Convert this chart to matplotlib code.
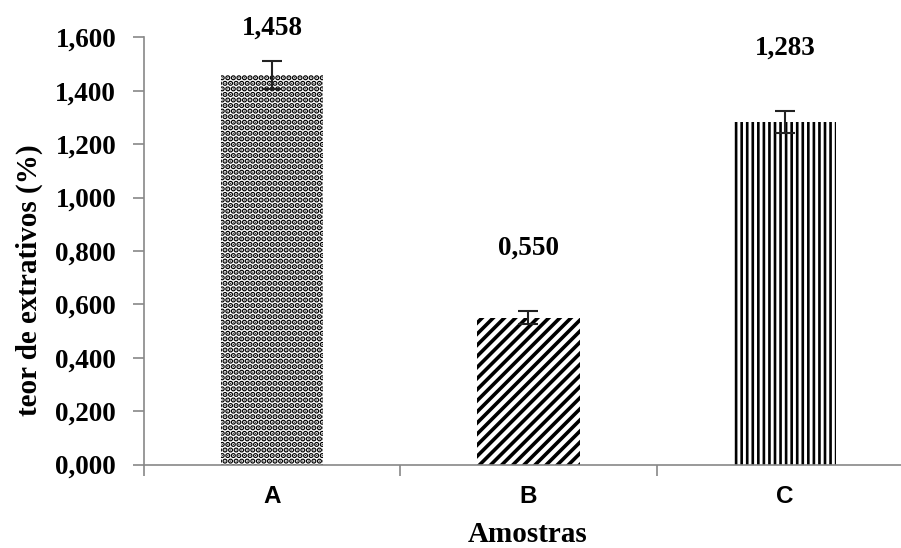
import matplotlib
matplotlib.use("Agg")
import matplotlib.pyplot as plt
import numpy as np

categories = ["A", "B", "C"]
values = [1.458, 0.550, 1.283]
errors = [0.053, 0.025, 0.040]
value_labels = ["1,458", "0,550", "1,283"]
yticks = [0.0, 0.2, 0.4, 0.6, 0.8, 1.0, 1.2, 1.4, 1.6]
ytick_labels = ["0,000", "0,200", "0,400", "0,600", "0,800", "1,000", "1,200", "1,400", "1,600"]
hatches = ["...", "///", "|||"]
hatch_widths = [2.8, 2.6, 1.9]

plt.rcParams["hatch.linewidth"] = 2.2
serif = ["Liberation Serif", "DejaVu Serif"]
sans = ["Liberation Sans", "DejaVu Sans"]

fig = plt.figure(figsize=(9.01, 5.48), dpi=100)
ax = fig.add_axes([144/901, 1 - 464.5/548, 769/901, (464.5 - 37.3)/548])

x = np.arange(len(categories))
bars = ax.bar(x, values, width=0.4, color="white", edgecolor="black", linewidth=0)
for b, h, hw in zip(bars, hatches, hatch_widths):
    b.set_hatch(h)
    if hasattr(b, "set_hatch_linewidth"):
        b.set_hatch_linewidth(hw)
ax.errorbar(x, values, yerr=errors, fmt="none", ecolor="#222222", elinewidth=1.5,
            capsize=7, capthick=1.5)

ax.set_xlim(-0.5, 2.5)
ax.set_ylim(0, 1.6)
ax.set_yticks(yticks)
ax.set_yticklabels(ytick_labels, fontfamily=serif, fontweight="bold", fontsize=19.5)
ax.set_xticks(x)
ax.set_xticklabels(categories, fontfamily=sans, fontweight="bold", fontsize=17.5)
ax.set_xticks(np.arange(-0.5, 3, 1.0), minor=True)
ax.tick_params(axis="x", which="major", length=0, pad=15)
ax.tick_params(axis="x", which="minor", length=8, width=1.2, color="#888888", direction="out")
ax.tick_params(axis="y", which="major", length=8, width=1.2, color="#888888", direction="out", pad=12)

for s in ["top", "right"]:
    ax.spines[s].set_visible(False)
for s in ["left", "bottom"]:
    ax.spines[s].set_color("#888888")
    ax.spines[s].set_linewidth(1.2)

label_y = np.minimum(np.array(values) + np.array(errors) + 0.235, 1.634)
for xi, ly, t in zip(x, label_y, value_labels):
    ax.text(xi, ly, t, ha="center", va="center", fontfamily=serif, fontweight="bold",
            fontsize=19.5, clip_on=False)

fig.text(528/901, 1 - 535/548, "Amostras", ha="center", va="center", fontfamily=serif,
         fontweight="bold", fontsize=21)
fig.text(29/901, 1 - 280/548, "teor de extrativos (%)", ha="center", va="center",
         rotation=90, fontfamily=serif, fontweight="bold", fontsize=21)

fig.savefig("out.png", dpi=100)
